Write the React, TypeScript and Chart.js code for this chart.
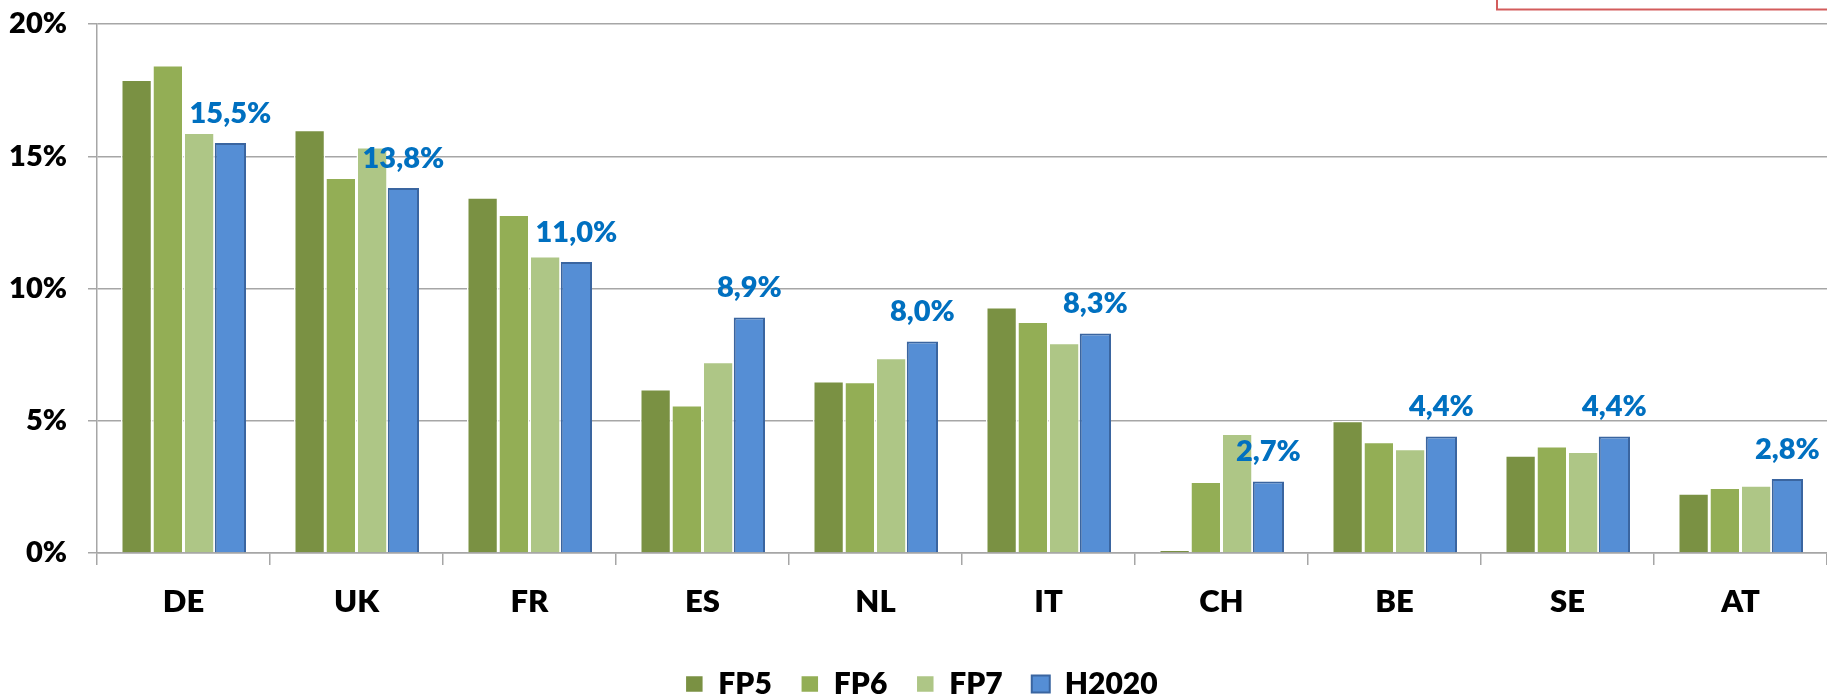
import React, { useEffect, useRef } from "react";
import { Chart, registerables } from "chart.js";

Chart.register(...registerables);

const categories = ["DE", "UK", "FR", "ES", "NL", "IT", "CH", "BE", "SE", "AT"];
const fp5 = [17.9, 16.0, 13.45, 6.2, 6.5, 9.3, 0.12, 5.0, 3.7, 2.26];
const fp6 = [18.45, 14.2, 12.8, 5.6, 6.47, 8.75, 2.7, 4.21, 4.05, 2.48];
const fp7 = [15.9, 15.35, 11.23, 7.23, 7.38, 7.95, 4.52, 3.94, 3.84, 2.56];
const h2020 = [15.5, 13.8, 11.0, 8.9, 8.0, 8.3, 2.7, 4.4, 4.4, 2.8];
const yTicks = [0, 5, 10, 15, 20];

const FONT = "Lato, 'DejaVu Sans', sans-serif";
const W = "800";

const dataLabelPlugin = {
  id: "h2020Labels",
  afterDatasetsDraw(chart: any) {
    const ctx = chart.ctx;
    const meta = chart.getDatasetMeta(3);
    ctx.save();
    ctx.font = `${W} 29px ${FONT}`;
    ctx.fillStyle = "#0070C0";
    ctx.textAlign = "center";
    ctx.textBaseline = "middle";
    meta.data.forEach((bar: any, i: number) => {
      const v = h2020[i];
      ctx.fillText(v.toFixed(1).replace(".", ",") + "%", bar.x, bar.y - 29.5);
    });
    ctx.restore();
  },
};

const legendShiftPlugin = {
  id: "legendShift",
  afterLayout(chart: any) {
    if (chart.legend) {
      chart.legend.left += 8;
      chart.legend.right += 8;
    }
  },
};

const redBoxPlugin = {
  id: "redBox",
  afterDraw(chart: any) {
    const ctx = chart.ctx;
    ctx.save();
    ctx.strokeStyle = "#D35C5C";
    ctx.lineWidth = 2;
    ctx.strokeRect(chart.width - 330, -10, 400, 19.5);
    ctx.restore();
  },
};

export default function App() {
  const ref = useRef<HTMLCanvasElement | null>(null);

  useEffect(() => {
    if (!ref.current) return;
    const grid = "#A6A6A6";
    const chart = new Chart(ref.current, {
      type: "bar",
      data: {
        labels: categories,
        datasets: [
          { label: "FP5", data: fp5, backgroundColor: "#7A9143", borderColor: "#FFFFFF", borderWidth: 1.5 },
          { label: "FP6", data: fp6, backgroundColor: "#93AE55", borderColor: "#FFFFFF", borderWidth: 1.5 },
          { label: "FP7", data: fp7, backgroundColor: "#AEC686", borderColor: "#FFFFFF", borderWidth: 1.5 },
          { label: "H2020", data: h2020, backgroundColor: "#558ED5", borderColor: "#3A65A0", borderWidth: 2 },
        ],
      },
      options: {
        responsive: false,
        animation: false,
        layout: { padding: { top: 24, left: 0, right: 0, bottom: 0 } },
        datasets: { bar: { categoryPercentage: 0.7225, barPercentage: 1 } },
        plugins: {
          tooltip: { enabled: false },
          legend: {
            position: "bottom",
            labels: {
              color: "#000",
              font: { family: FONT, size: 30, weight: W },
              boxWidth: 18,
              boxHeight: 17,
              padding: 29,
            },
          },
        },
        scales: {
          x: {
            grid: {
              display: true,
              drawOnChartArea: false,
              drawTicks: true,
              tickLength: 12,
              color: grid,
              lineWidth: 1.5,
              offset: true,
            },
            border: { display: true, color: grid, width: 1.5 },
            ticks: {
              color: "#000",
              font: { family: FONT, size: 31, weight: W },
              padding: 18,
              maxRotation: 0,
            },
            afterFit: (s: any) => {
              s.height = 87;
            },
          },
          y: {
            min: 0,
            max: 20,
            afterBuildTicks: (s: any) => {
              s.ticks = yTicks.map((v) => ({ value: v }));
            },
            grid: { color: grid, lineWidth: 1.5, tickLength: 9 },
            border: { display: true, color: grid, width: 1.5 },
            ticks: {
              color: "#000",
              font: { family: FONT, size: 29, weight: W },
              padding: 21,
              callback: (v: any) => v + "%",
            },
            afterFit: (s: any) => {
              s.width = 97;
              s.paddingTop = 0;
              s.paddingBottom = 0;
            },
          },
        },
      },
      plugins: [dataLabelPlugin, legendShiftPlugin, redBoxPlugin],
    } as any);
    return () => chart.destroy();
  }, []);

  return (
    <div style={{ position: "fixed", left: 0, top: 0, width: 1827, height: 695, overflow: "hidden", background: "#fff" }}>
      <canvas ref={ref} width={1827} height={709} style={{ width: 1827, height: 709, display: "block" }} />
    </div>
  );
}
